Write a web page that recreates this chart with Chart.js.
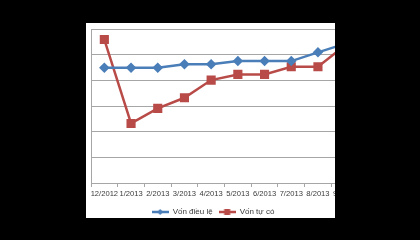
<!DOCTYPE html>
<html>
<head>
<meta charset="utf-8">
<script src="https://cdn.jsdelivr.net/npm/chart.js@4.4.0/dist/chart.umd.min.js"></script>
<style>
    html, body { margin: 0; padding: 0; background: #000; width: 420px; height: 240px; overflow: hidden; }
    #frame { position: absolute; left: 86px; top: 23px; width: 249px; height: 195px; background: #fff; overflow: hidden; }
    #wrap { position: absolute; left: -18px; top: 0; width: 290px; height: 195px; }
</style>
</head>
<body>
<div id="frame"><div id="wrap"><canvas id="chart"></canvas></div></div>
<script>
// Months on the x axis (the last one is cut off by the frame, like the original)
const months = ['12/2012', '1/2013', '2/2013', '3/2013', '4/2013', '5/2013', '6/2013', '7/2013', '8/2013', '9/2013'];

// Vốn điều lệ (charter capital)
const charterCapital = [449, 449, 449, 463, 463, 475, 475, 475, 509, 542];

// Vốn tự có (own capital)
const ownCapital = [559, 232, 291, 332, 401, 423, 423, 453, 453, 535];

const seriesNames = ['Vốn điều lệ', 'Vốn tự có'];

const colors = {
    blue: '#4a7eb8',
    red: '#b84b48',
    grid: '#a6a6a6',
    text: '#3a3a3a'
};

const tickFont = { family: 'Liberation Sans', size: 7.6 };
const legendFont = { family: 'Liberation Sans', size: 8 };

// Little legend icon: a line with the marker in the middle, Excel style
function legendIcon(color, style) {
    const c = document.createElement('canvas');
    c.width = 17;
    c.height = 8;
    const g = c.getContext('2d');
    g.strokeStyle = color;
    g.fillStyle = color;
    g.lineWidth = 2.5;
    g.beginPath();
    g.moveTo(0, 4);
    g.lineTo(17, 4);
    g.stroke();
    if (style === 'diamond') {
        g.beginPath();
        g.moveTo(8.5, 1); g.lineTo(11.5, 4); g.lineTo(8.5, 7); g.lineTo(5.5, 4);
        g.closePath();
        g.fill();
    } else {
        g.fillRect(5.5, 1, 6, 6);
    }
    return c;
}

const icons = [legendIcon(colors.blue, 'diamond'), legendIcon(colors.red, 'square')];

new Chart(document.getElementById('chart'), {
    type: 'line',
    data: {
        labels: months,
        datasets: [
            {
                label: seriesNames[0],
                data: charterCapital,
                borderColor: colors.blue,
                backgroundColor: colors.blue,
                borderWidth: 2.5,
                pointStyle: 'rectRot',
                pointRadius: 3.5,
                tension: 0
            },
            {
                label: seriesNames[1],
                data: ownCapital,
                borderColor: colors.red,
                backgroundColor: colors.red,
                borderWidth: 2.5,
                pointStyle: 'rect',
                pointRadius: 4.7,
                tension: 0
            }
        ]
    },
    options: {
        responsive: true,
        maintainAspectRatio: false,
        animation: false,
        devicePixelRatio: 1,
        layout: {
            autoPadding: false,
            padding: { top: 6, left: 0, right: 0, bottom: 0 }
        },
        plugins: {
            tooltip: { enabled: false },
            legend: {
                position: 'bottom',
                maxHeight: 16,
                labels: {
                    usePointStyle: true,
                    pointStyleWidth: 17,
                    padding: 6,
                    color: colors.text,
                    font: legendFont,
                    generateLabels: function(chart) {
                        const items = Chart.defaults.plugins.legend.labels.generateLabels(chart);
                        items.forEach(function(item, i) {
                            item.pointStyle = icons[i];
                        });
                        return items;
                    }
                }
            }
        },
        scales: {
            x: {
                offset: true,
                afterFit: function(scale) {
                    scale.height = 19;
                    scale.paddingLeft = 0;
                    scale.paddingRight = 0;
                },
                grid: {
                    offset: true,
                    drawOnChartArea: false,
                    tickLength: 4,
                    color: colors.grid
                },
                border: { color: colors.grid },
                ticks: {
                    color: colors.text,
                    font: tickFont,
                    maxRotation: 0,
                    autoSkip: false,
                    padding: 2
                }
            },
            y: {
                min: 0,
                max: 600,
                afterFit: function(scale) { scale.width = 23; },
                ticks: { stepSize: 100, display: false },
                grid: { color: colors.grid, drawTicks: false },
                border: { color: colors.grid }
            }
        }
    }
});
</script>
</body>
</html>
